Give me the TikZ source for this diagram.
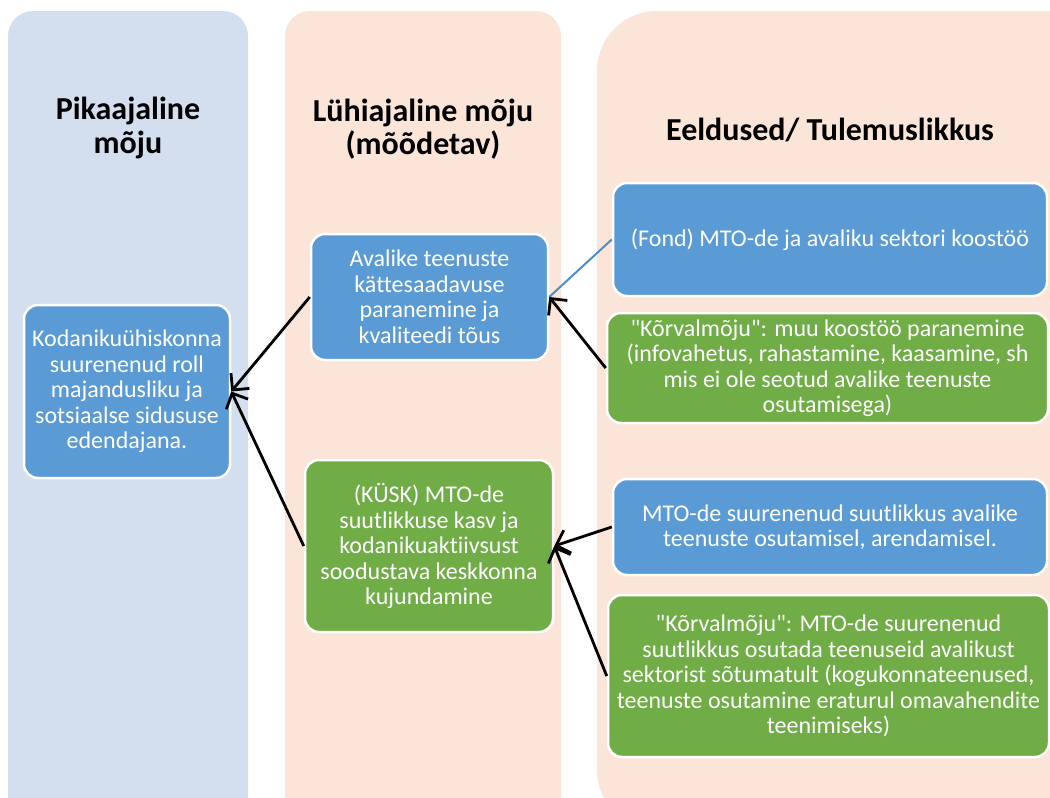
\documentclass[tikz,border=0pt]{standalone}
\usepackage{fontspec}
\setmainfont{Carlito}[Ligatures={TeXOff,NoCommon}]
\usetikzlibrary{arrows.meta}
\definecolor{colA}{HTML}{D3DEEF}
\definecolor{colB}{HTML}{FAE5D8}
\definecolor{boxblue}{HTML}{5B9BD5}
\definecolor{boxgreen}{HTML}{70AD47}
\definecolor{linkblue}{HTML}{4F8CCB}
\begin{document}
\begin{tikzpicture}[x=1pt,y=-1pt,
  box/.style={draw=white, line width=2.5pt, rounded corners=14pt, text=white, align=center, inner sep=0pt, font=\fontsize{24}{25.5}\selectfont},
  bluebox/.style={box, fill=boxblue},
  greenbox/.style={box, fill=boxgreen},
  head/.style={align=center, font=\fontsize{32}{33.5}\selectfont\bfseries},
  arr/.style={-{Straight Barb[length=12pt,width=24pt]}, line width=2.8pt, black},
  link/.style={line width=2pt, draw=linkblue}]
\useasboundingbox (0,0) rectangle (1050,798);
\clip (0,0) rectangle (1050,798);
% columns
\fill[colA, rounded corners=25pt] (8,11) rectangle (248,830);
\fill[colB, rounded corners=25pt] (285,11) rectangle (561,830);
\fill[colB, rounded corners=60pt] (597,11) rectangle (1110,830);
% headings
\node[head] (h1) at (128,128) {Pikaajaline\\mõju};
\node[head] (h2) at (423,129) {Lühiajaline mõju\\(mõõdetav)};
\node[head] (h3) at (830,130) {Eeldused/ Tulemuslikkus};
% boxes
\node[bluebox, minimum width=206pt, minimum height=173pt] (L) at (127,391.5)
  {Kodanikuühiskonna\\suurenenud roll\\majandusliku ja\\sotsiaalse sidususe\\edendajana.};
\node[bluebox, minimum width=237pt, minimum height=126pt] (A) at (429.5,297)
  {Avalike teenuste\\kättesaadavuse\\paranemine ja\\kvaliteedi tõus};
\node[greenbox, minimum width=248pt, minimum height=172pt] (B) at (429,546)
  {(KÜSK) MTO-de\\suutlikkuse kasv ja\\kodanikuaktiivsust\\soodustava keskkonna\\kujundamine};
\node[bluebox, minimum width=434pt, minimum height=113pt] (R1) at (830,239.5)
  {(Fond) MTO-de ja avaliku sektori koostöö};
\node[greenbox, minimum width=441pt, minimum height=110pt] (R2) at (827.5,368)
  {"Kõrvalmõju": muu koostöö paranemine\\(infovahetus, rahastamine, kaasamine, sh\\mis ei ole seotud avalike teenuste\\osutamisega)};
\node[bluebox, minimum width=434pt, minimum height=96pt] (R3) at (830,527)
  {MTO-de suurenenud suutlikkus avalike\\teenuste osutamisel, arendamisel.};
\node[greenbox, minimum width=441pt, minimum height=162pt] (R4) at (828.5,676)
  {"Kõrvalmõju": MTO-de suurenenud\\suutlikkus osutada teenuseid avalikust\\sektorist sõtumatult (kogukonnateenused,\\teenuste osutamine eraturul omavahendite\\teenimiseks)};
% connectors
\draw[arr] (A.west) -- (L.east);
\draw[arr] (B.west) -- (L.east);
\draw[link] (R1.west) -- (A.east);
\draw[arr] (R2.west) -- (A.east);
\draw[arr] (R3.west) -- (B.east);
\draw[arr] (R4.west) -- (B.east);
\end{tikzpicture}
\end{document}
